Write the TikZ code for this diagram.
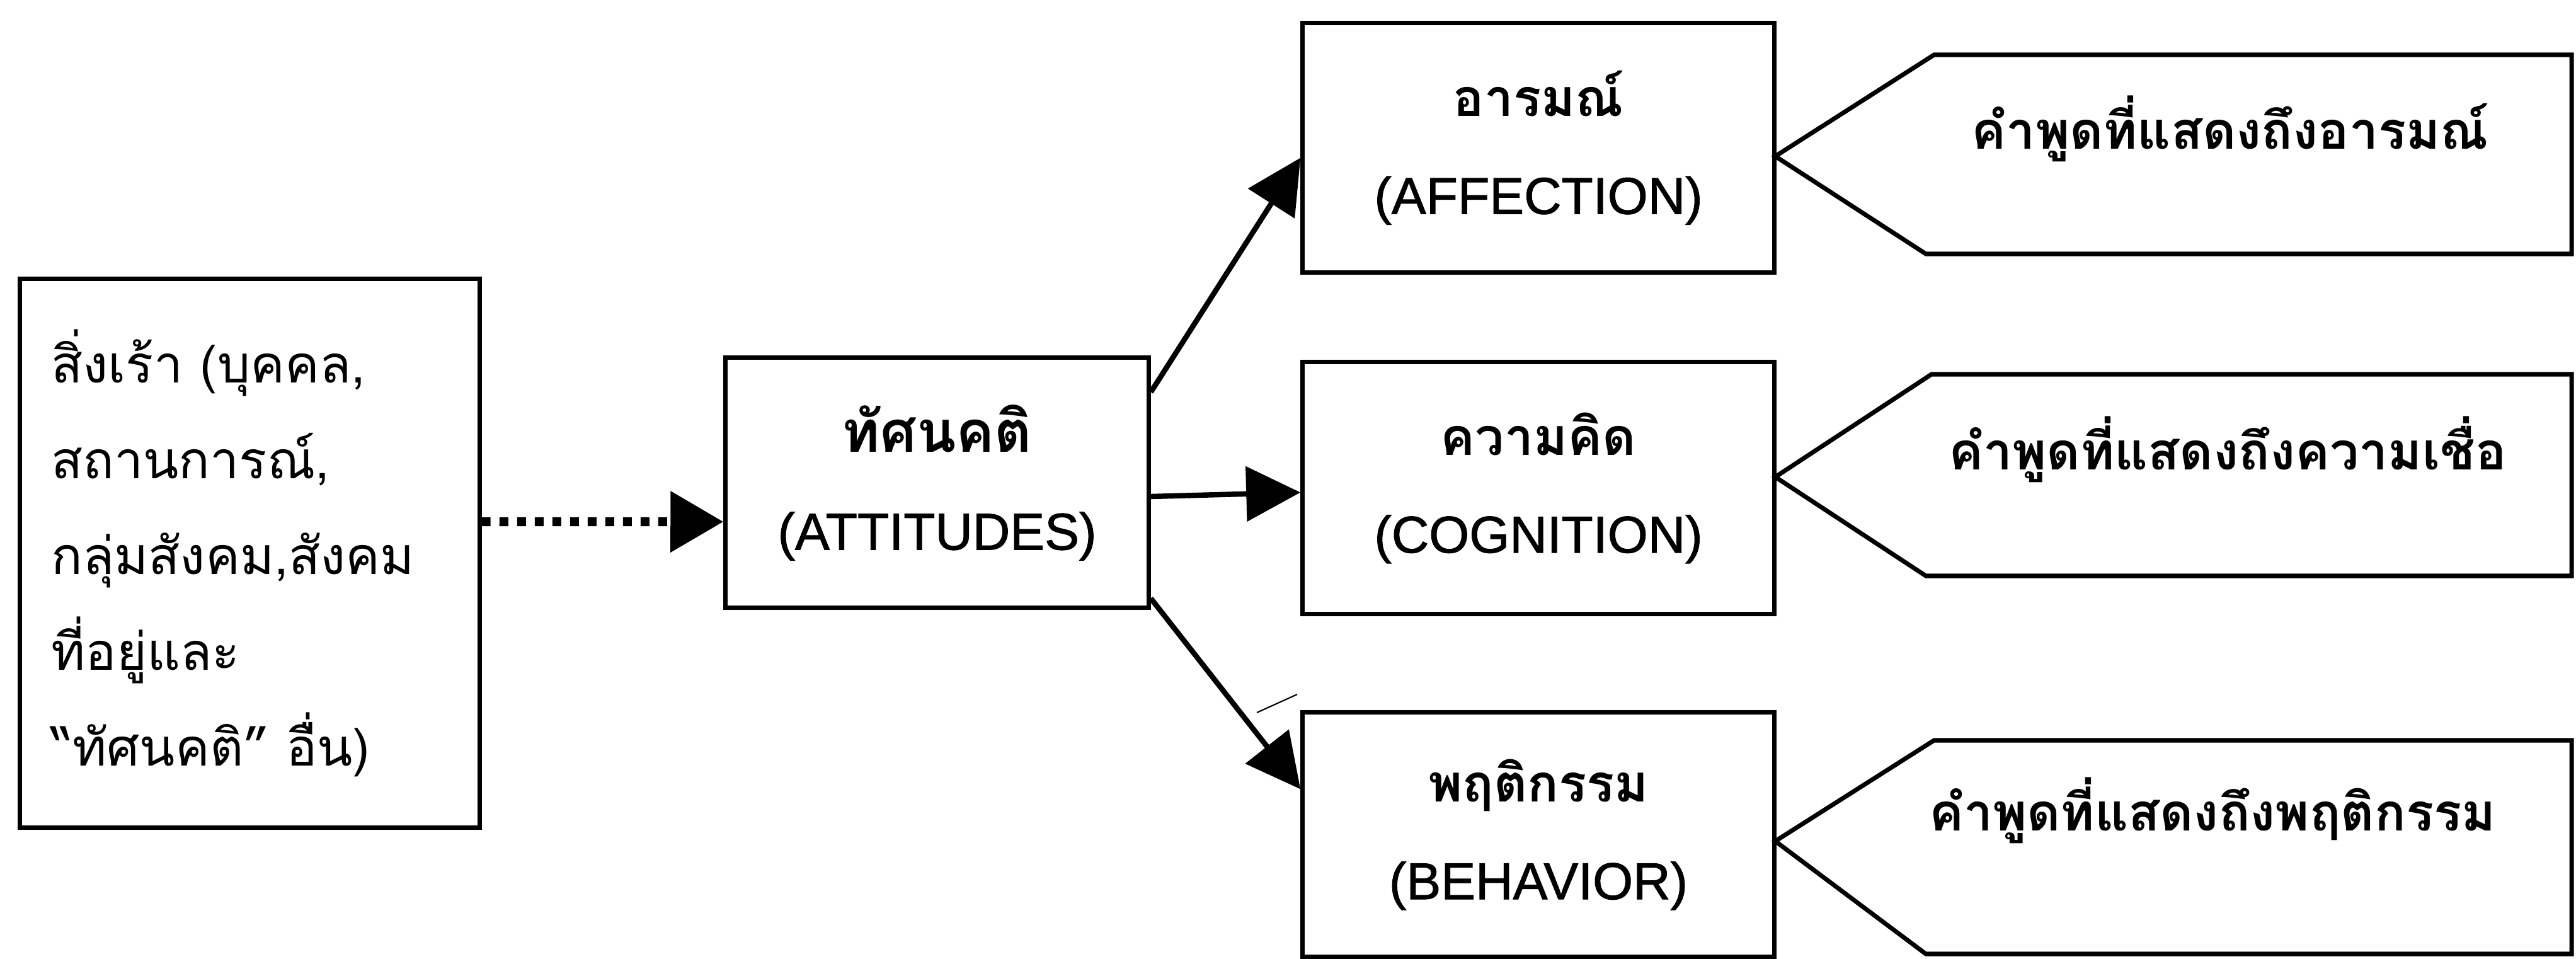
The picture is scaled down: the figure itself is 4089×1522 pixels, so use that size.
\documentclass[tikz,border=0pt]{standalone}
\usepackage{fontspec}
\setmainfont{Liberation Sans}[FakeBold=1.2]
\newfontfamily\thai[Script=Thai]{Loma}
\usetikzlibrary{arrows.meta}
\tikzset{
  box/.style={draw, line width=2pt, rectangle, inner sep=0pt},
  title/.style={align=center, font=\fontsize{23.4pt}{44pt}\selectfont},
  conn/.style={line width=2.4pt, -{Triangle[length=0.86cm,width=0.86cm]}},
  dotconn/.style={line width=4pt, dash pattern=on 0.14cm off 0.14cm, -{Triangle[length=0.84cm,width=0.94cm]}},
  callout/.style={draw, line width=2pt, line join=miter},
  ctext/.style={font=\thai\bfseries\fontsize{23.4pt}{28pt}\selectfont},
}
\begin{document}
\begin{tikzpicture}[x=0.01cm,y=-0.01cm]
\useasboundingbox (0,0) rectangle (4089,1522);
% boxes
\node[box, minimum width=7.29cm, minimum height=8.70cm, text width=6.3cm, align=left,
      font=\thai\fontsize{23.4pt}{43.2pt}\selectfont] (stim) at (396.5,878)
  {สิ่งเร้า (บุคคล,\\สถานการณ์,\\กลุ่มสังคม,สังคม\\ที่อยู่และ\\“ทัศนคติ” อื่น)};
\node[box, title, minimum width=6.71cm, minimum height=3.96cm] (att) at (1487.5,766)
  {{\thai\bfseries\fontsize{26pt}{44pt}\selectfont ทัศนคติ}\\(ATTITUDES)};
\node[box, title, minimum width=7.48cm, minimum height=3.95cm] (aff) at (2442,234.5)
  {{\thai\bfseries อารมณ์}\\(AFFECTION)};
\node[box, title, minimum width=7.48cm, minimum height=3.99cm] (cog) at (2442,774.5)
  {{\thai\bfseries ความคิด}\\(COGNITION)};
\node[box, title, minimum width=7.48cm, minimum height=3.87cm] (beh) at (2442,1324.5)
  {{\thai\bfseries พฤติกรรม}\\(BEHAVIOR)};
% connectors
\draw[dotconn] ([yshift=0.5cm]stim.east) -- ([yshift=-0.62cm]att.west);
\draw[conn] ([yshift=-0.58cm]att.north east) -- ([yshift=-0.16cm]aff.west);
\draw[conn] ([yshift=-0.22cm]att.east) -- ([yshift=-0.07cm]cog.west);
\draw[conn] ([yshift=0.18cm]att.south east) -- ([yshift=0.72cm]beh.west);
% stray mark
\coordinate (m1) at (1995,1131);
\coordinate (m2) at (2059,1102);
\draw[line width=0.6pt] (m1) -- (m2);
% callouts
\draw[callout] (2818,248) -- (3070,87) -- (4082,87) -- (4082,403) -- (3057,403) -- cycle;
\draw[callout] (2818,757) -- (3066,594) -- (4082,594) -- (4082,914) -- (3057,914) -- cycle;
\draw[callout] (2818,1335) -- (3070,1175) -- (4082,1175) -- (4082,1514) -- (3057,1514) -- cycle;
\node[ctext] (t1) at (3540,204) {คำพูดที่แสดงถึงอารมณ์};
\node[ctext] (t2) at (3536,713) {คำพูดที่แสดงถึงความเชื่อ};
\node[ctext] (t3) at (3512,1286) {คำพูดที่แสดงถึงพฤติกรรม};
\end{tikzpicture}
\end{document}
